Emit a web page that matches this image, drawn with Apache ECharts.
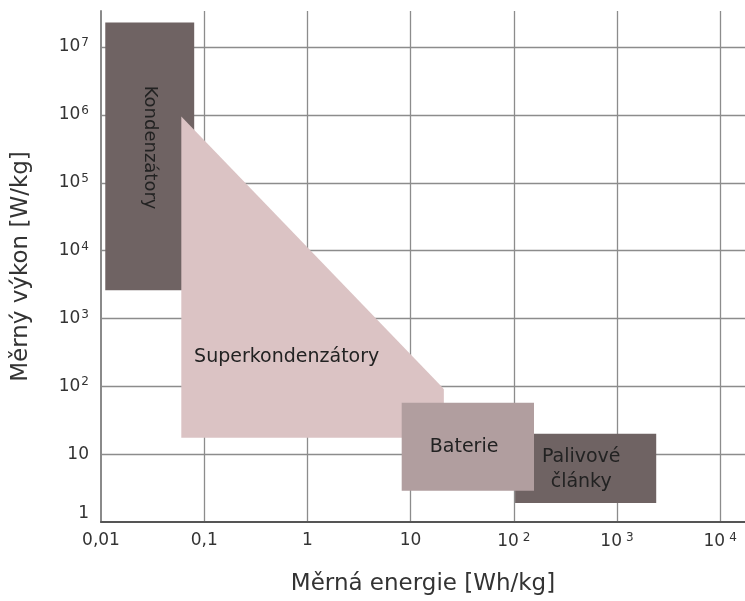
<!DOCTYPE html>
<html><head><meta charset="utf-8">
<script src="https://cdn.jsdelivr.net/npm/echarts@6/dist/echarts.min.js"></script>
<style>html,body{margin:0;padding:0;background:#fff}#c{width:745px;height:601px}</style>
</head><body><div id="c"></div>
<script>
// Tick values and labels (rich text: b = base, s = superscript exponent, g = spaced exponent)
const xTickValues = [0.01, 0.1, 1, 10, 100, 1000, 10000];
const xTickLabels = ['0,01', '0,1', '1', '10', '{b|10}{g|2}', '{b|10}{g|3}', '{b|10}{g|4}'];
const yTickValues = [1, 10, 100, 1000, 1e4, 1e5, 1e6, 1e7];
const yTickLabels = ['1', '10', '{b|10}{s|2}', '{b|10}{s|3}', '{b|10}{s|4}', '{b|10}{s|5}', '{b|10}{s|6}', '{b|10}{s|7}'];

// Regions: [specific energy Wh/kg, specific power W/kg]
const kondenzatory = [[0.011, 2600], [0.08, 2600], [0.08, 2.3e7], [0.011, 2.3e7]];
const superkondenzatory = [[0.06, 9.5e5], [20.5, 95], [21, 90], [21, 17.5], [0.06, 17.5]];
const baterie = [[8.2, 2.9], [157, 2.9], [157, 57], [8.2, 57]];
const palivoveClanky = [[103, 1.9], [2400, 1.9], [2400, 20], [103, 20]];

// Category names and label anchors (data coords)
const names = ['Kondenzátory', 'Superkondenzátory', 'Baterie', 'Palivové\nčlánky'];
const labelAnchors = [[0.0295, 3.3e5], [0.63, 272], [33, 12.6], [450, 5.9]];

const FONT = '"DejaVu Sans", sans-serif';

function lookup(vals, labels, v) {
  for (let i = 0; i < vals.length; i++) {
    if (Math.abs(Math.log10(v) - Math.log10(vals[i])) < 1e-6) return labels[i];
  }
  return '';
}

function region(name, pts, color, anchor, rotate, fontSize, z) {
  return {
    type: 'custom', name: name, coordinateSystem: 'cartesian2d',
    data: pts, encode: { x: 0, y: 1 }, z: z, silent: true, clip: false,
    renderItem: function (params, api) {
      if (params.dataIndex !== 0) return null;
      const points = pts.map(function (p) { return api.coord(p); });
      const c = api.coord(anchor);
      return {
        type: 'group',
        children: [
          { type: 'polygon', shape: { points: points }, style: { fill: color } },
          { type: 'text', x: c[0], y: c[1], rotation: rotate || 0,
            style: { text: name, fill: '#222', fontSize: fontSize, fontFamily: FONT,
                     align: 'center', verticalAlign: 'middle', lineHeight: 25 } }
        ]
      };
    }
  };
}

const GRID = '#8c8c8c';
const NONE = 'rgba(0,0,0,0)';
const tickRich = {
  b: { fontSize: 17, color: '#333', fontFamily: FONT, lineHeight: 20 },
  s: { fontSize: 12, color: '#333', fontFamily: FONT, verticalAlign: 'top', lineHeight: 12, padding: [0, 0, 0, 1] },
  g: { fontSize: 12, color: '#333', fontFamily: FONT, verticalAlign: 'top', lineHeight: 12, padding: [0, 0, 0, 4] }
};

const chart = echarts.init(document.getElementById('c'));
chart.setOption({
  animation: false,
  backgroundColor: '#fff',
  textStyle: { fontFamily: FONT },
  grid: { left: 101, right: 0, top: 11, bottom: 72, containLabel: false },
  xAxis: {
    type: 'log', logBase: 10, min: 0.01, max: 17400,
    name: 'Měrná energie [Wh/kg]', nameLocation: 'middle', nameGap: 51,
    nameTextStyle: { fontSize: 23, color: '#333', fontFamily: FONT },
    axisLine: { show: true, lineStyle: { color: '#555', width: 2 } },
    axisTick: { show: false },
    axisLabel: { fontSize: 17, color: '#333', margin: 10, showMaxLabel: false, rich: tickRich,
      formatter: function (v) { return lookup(xTickValues, xTickLabels, v); } },
    splitLine: { show: true, lineStyle: { color: [NONE, GRID, GRID, GRID, GRID, GRID, GRID, NONE], width: 1.3 } },
    minorTick: { show: false }, minorSplitLine: { show: false }
  },
  yAxis: {
    type: 'log', logBase: 10, min: 1, max: 3.4e7,
    name: 'Měrný výkon [W/kg]', nameLocation: 'middle', nameGap: 68, nameRotate: 90,
    nameTextStyle: { fontSize: 23, color: '#333', fontFamily: FONT },
    axisLine: { show: true, lineStyle: { color: '#8a8a8a', width: 2 } },
    axisTick: { show: false },
    axisLabel: { fontSize: 17, color: '#333', margin: 12, showMaxLabel: false, rich: tickRich,
      verticalAlignMinLabel: 'bottom',
      formatter: function (v) { return lookup(yTickValues, yTickLabels, v); } },
    splitLine: { show: true, lineStyle: { color: [NONE, GRID, GRID, GRID, GRID, GRID, GRID, GRID, NONE], width: 1.3 } },
    minorTick: { show: false }, minorSplitLine: { show: false }
  },
  series: [
    region(names[0], kondenzatory, '#6f6363', labelAnchors[0], -Math.PI / 2, 18, 2),
    region(names[1], superkondenzatory, '#dbc3c4', labelAnchors[1], 0, 19, 3),
    region(names[3], palivoveClanky, '#6f6363', labelAnchors[3], 0, 19, 4),
    region(names[2], baterie, '#b19e9f', labelAnchors[2], 0, 19, 5)
  ]
});
</script></body></html>
